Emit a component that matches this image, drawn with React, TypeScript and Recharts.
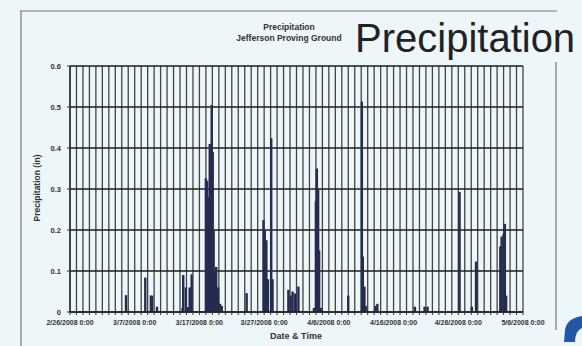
import React from "react";
import { BarChart, Bar, XAxis, YAxis, CartesianGrid } from "recharts";

// Days since 2/26/2008 0:00
const days = [
  8.66, 11.64, 12.5, 12.7, 13.45, 17.4, 17.5, 17.9, 18.2, 18.5, 18.8,
  21.0, 21.2, 21.4, 21.6, 21.75, 21.9, 22.06, 22.2, 22.4, 22.6, 22.9, 23.2, 23.45,
  27.3, 29.9, 30.1, 30.35, 30.6, 31.1, 31.3,
  33.75, 34.1, 34.4, 34.8, 35.3, 37.7, 38.0, 38.15, 38.35, 38.5, 38.8,
  43.0, 45.1, 45.25, 45.5, 45.7, 47.2, 47.5,
  53.3, 54.8, 55.25, 60.2, 62.1, 62.75, 66.5, 66.7, 67.0, 67.2, 67.4,
];
// Precipitation (in)
const precip = [
  0.041, 0.084, 0.04, 0.04, 0.013, 0.01, 0.09, 0.06, 0.012, 0.06, 0.092,
  0.326, 0.32, 0.28, 0.41, 0.38, 0.505, 0.39, 0.2, 0.098, 0.11, 0.06, 0.02, 0.015,
  0.046, 0.224, 0.2, 0.175, 0.08, 0.424, 0.08,
  0.054, 0.04, 0.05, 0.045, 0.062, 0.01, 0.27, 0.35, 0.3, 0.15, 0.01,
  0.04, 0.513, 0.135, 0.062, 0.015, 0.015, 0.02,
  0.013, 0.013, 0.013, 0.293, 0.013, 0.123, 0.16, 0.184, 0.19, 0.215, 0.04,
];

const xTickValues = Array.from({ length: 71 }, (_, i) => i);
const xTickLabels: Record<number, string> = {
  0: "2/26/2008 0:00",
  10: "3/7/2008 0:00",
  20: "3/17/2008 0:00",
  30: "3/27/2008 0:00",
  40: "4/6/2008 0:00",
  50: "4/16/2008 0:00",
  60: "4/26/2008 0:00",
  70: "5/6/2008 0:00",
};
const yTickValues = [0, 0.1, 0.2, 0.3, 0.4, 0.5, 0.6];
const yTickLabels = ["0", "0.1", "0.2", "0.3", "0.4", "0.5", "0.6"];

const data = days.map((d, i) => ({ day: d, precip: precip[i] }));

const BG = "#edf6f8";
const FONT = "'Liberation Sans', Arial, sans-serif";

const XTick = (props: any) => {
  const { x, y, payload } = props;
  const label = xTickLabels[payload.value];
  if (!label) return null;
  return (
    <text x={x} y={y} dy="0.71em" textAnchor="middle" fontSize={7} fontWeight="bold" fill="#333" fontFamily={FONT}>
      {label}
    </text>
  );
};

const YTick = (props: any) => {
  const { x, y, payload } = props;
  const idx = yTickValues.findIndex((v) => Math.abs(v - payload.value) < 1e-9);
  return (
    <text x={x} y={y} dy="0.355em" textAnchor="end" fontSize={7.5} fontWeight="bold" fill="#333" fontFamily={FONT}>
      {idx >= 0 ? yTickLabels[idx] : ""}
    </text>
  );
};

const BarShape = (props: any) => {
  const { x, y, width, height } = props;
  if (!height || height <= 0) return null;
  const cx = x + width / 2;
  return <rect x={cx - 1.2} y={y} width={2.4} height={height} fill="#242c4f" />;
};

export default function App() {
  return (
    <div style={{ position: "absolute", left: 0, top: 0, width: 582, height: 346, background: BG, overflow: "hidden" }}>
      <div style={{ position: "absolute", left: 0, top: 0 }}>
        <BarChart width={582} height={346} data={data} margin={{ top: 66, right: 59, bottom: 14, left: 40 }} barSize={2}>
          <CartesianGrid horizontal={false} stroke="#444" strokeWidth={1.3} />
          <CartesianGrid vertical={false} stroke="#1e1e1e" strokeWidth={1.3} />
          <XAxis
            dataKey="day"
            type="number"
            domain={[0, 70]}
            ticks={xTickValues}
            interval={0}
            tick={<XTick />}
            tickSize={3}
            tickMargin={5}
            tickLine={{ stroke: "#333" }}
            axisLine={{ stroke: "#222", strokeWidth: 1.3 }}
            height={20}
            allowDataOverflow
          />
          <YAxis
            type="number"
            domain={[0, 0.6]}
            ticks={yTickValues}
            interval={0}
            tick={<YTick />}
            tickSize={3}
            tickMargin={6}
            tickLine={{ stroke: "#333" }}
            axisLine={{ stroke: "#222", strokeWidth: 1.3 }}
            width={30}
          />
          <Bar dataKey="precip" isAnimationActive={false} shape={<BarShape />} />
        </BarChart>
      </div>
      <svg width={582} height={346} style={{ position: "absolute", left: 0, top: 0, pointerEvents: "none" }}>
        <line x1={20} y1={11} x2={557} y2={11} stroke="#777" strokeWidth={1.2} />
        <line x1={21} y1={11} x2={21} y2={346} stroke="#777" strokeWidth={1.2} />
        <line x1={556} y1={62} x2={556} y2={330} stroke="#777" strokeWidth={1.2} />
        <text x={289} y={30} textAnchor="middle" fontSize={8.5} fontWeight="bold" fill="#333" fontFamily={FONT}>
          Precipitation
        </text>
        <text x={289} y={41} textAnchor="middle" fontSize={8.5} fontWeight="bold" fill="#333" fontFamily={FONT}>
          Jefferson Proving Ground
        </text>
        <text x={355} y={52} fontSize={40} fill="#222" fontFamily={FONT}>
          Precipitation
        </text>
        <text
          x={38}
          y={188}
          transform="rotate(-90 38 188)"
          textAnchor="middle"
          dominantBaseline="middle"
          fontSize={8.5}
          fontWeight="bold"
          fill="#333"
          fontFamily={FONT}
        >
          Precipitation (in)
        </text>
        <text x={296} y={339} textAnchor="middle" fontSize={9} fontWeight="bold" fill="#333" fontFamily={FONT}>
          Date &amp; Time
        </text>
        <path d="M582 316 Q567 318 565 330 L564 342 L575 342 Q575 331 582 328 Z" fill="#2456a8" />
      </svg>
    </div>
  );
}
